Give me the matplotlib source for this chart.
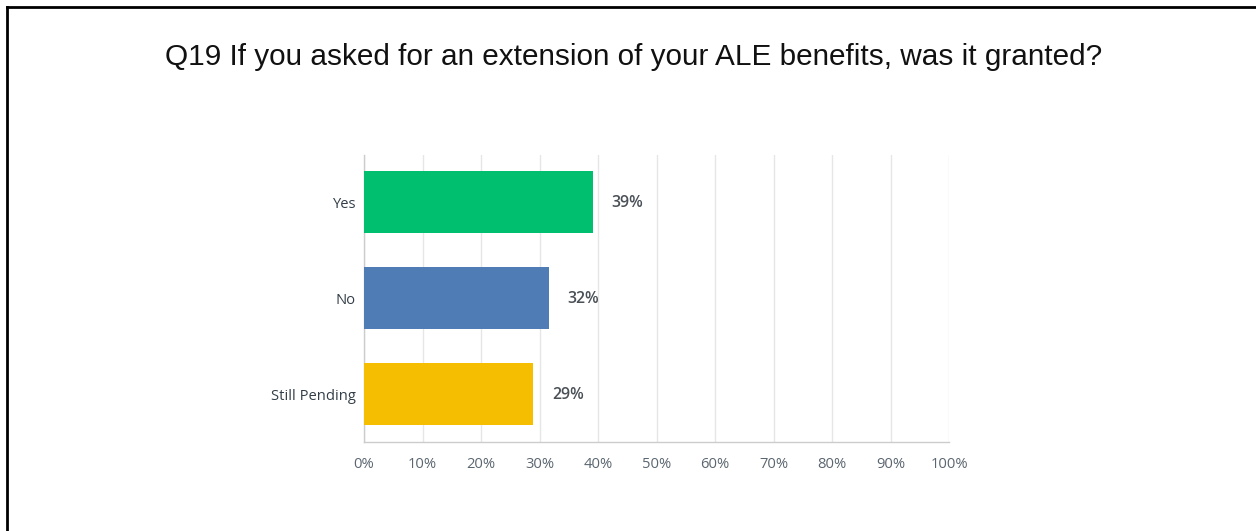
import matplotlib
matplotlib.use("Agg")
import matplotlib.pyplot as plt
from matplotlib.lines import Line2D

title = "Q19 If you asked for an extension of your ALE benefits, was it granted?"
categories = ["Yes", "No", "Still Pending"]
values = [39.1, 31.6, 28.9]
labels = ["39%", "32%", "29%"]
colors = ["#00bf6f", "#507cb6", "#f5be00"]
xticks = [0, 10, 20, 30, 40, 50, 60, 70, 80, 90, 100]
xticklabels = [f"{t}%" for t in xticks]

W, H = 1256, 531
fig = plt.figure(figsize=(W / 100, H / 100), dpi=100)
fig.patch.set_facecolor("white")

ax = fig.add_axes([364 / W, 1 - 442 / H, (949 - 364) / W, (442 - 155) / H])
y = list(range(len(categories)))
ax.barh(y, values, height=0.646, color=colors, zorder=3)
ax.set_ylim(2.5, -0.49)
ax.set_xlim(0, 100)
ax.set_xticks(xticks)
ax.set_xticklabels(xticklabels)
ax.set_yticks(y)
ax.set_yticklabels(categories)
ax.grid(axis="x", color="#e6e6e6", linewidth=1, zorder=0)
for s in ["top", "right"]:
    ax.spines[s].set_visible(False)
for s in ["left", "bottom"]:
    ax.spines[s].set_color("#cccccc")
    ax.spines[s].set_linewidth(1)
ax.tick_params(axis="both", length=0)
ax.tick_params(axis="x", pad=11, labelsize=10.6, labelcolor="#5b6670")
ax.tick_params(axis="y", pad=6, labelsize=10.6, labelcolor="#333e48")
for t in ax.get_xticklabels() + ax.get_yticklabels():
    t.set_family(["Open Sans", "DejaVu Sans"])

for yi, v, lab in zip(y, values, labels):
    ax.annotate(lab, (v, yi), xytext=(13.5, -1), textcoords="offset points",
                ha="left", va="center", fontsize=11.4, color="#4a5056",
                family=["Open Sans", "DejaVu Sans"], fontweight="semibold")

fig.text(634 / W, 1 - 57 / H, title, ha="center", va="center",
         fontsize=21.4, family=["Liberation Sans", "DejaVu Sans"], color="#111111")

fig.add_artist(Line2D([7 / W, 7 / W], [0, 1 - 7 / H], transform=fig.transFigure,
                      color="black", linewidth=2))
fig.add_artist(Line2D([7 / W, 1], [1 - 7 / H, 1 - 7 / H], transform=fig.transFigure,
                      color="black", linewidth=2))

fig.savefig("out.png", dpi=100, facecolor="white")
